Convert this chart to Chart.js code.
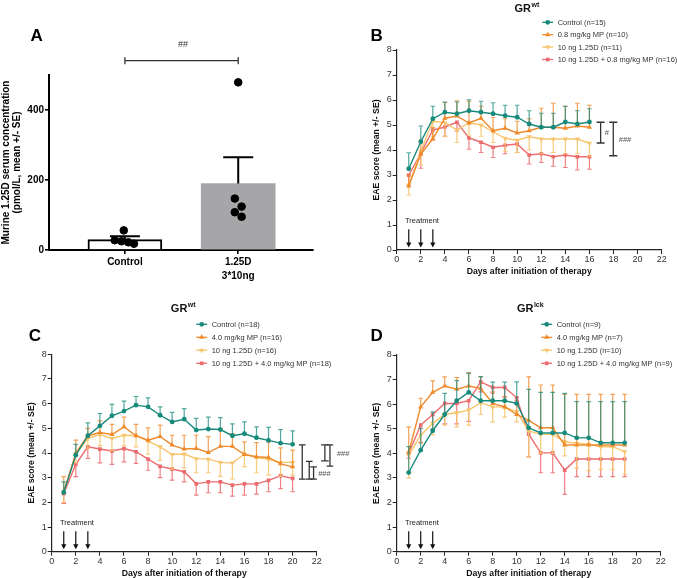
<!DOCTYPE html>
<html>
<head>
<meta charset="utf-8">
<script src="https://cdn.jsdelivr.net/npm/chart.js@4.4.1/dist/chart.umd.min.js"></script>
<style>
  html, body { margin: 0; padding: 0; background: #fff; }
  #fig { position: relative; width: 677px; height: 578px; overflow: hidden; }
  canvas { position: absolute; }
</style>
</head>
<body>
<div id="fig">
  <canvas id="panelA" width="340" height="290" style="left:0;top:0"></canvas>
  <canvas id="panelC" width="360" height="288" style="left:0;top:290px"></canvas>
  <canvas id="panelB" width="337" height="290" style="left:340px;top:0"></canvas>
  <canvas id="panelD" width="337" height="288" style="left:340px;top:290px"></canvas>
</div>
<script>
// ---------- panel A: serum 1.25D ----------
const aGroups = ['Control', ['1.25D', '3*10ng']];
const aMeans = [29.5, 190];
const aSE = [9.5, 75];
const aControlDots = [56, 28, 25, 22, 18];
const aTreatedDots = [479, 147, 124, 108, 95];
const aControlJitter = [-0.01, -0.09, -0.03, 0.03, 0.08];
const aTreatedJitter = [0, -0.03, 0.03, -0.03, 0.03];

// ---------- panels B-D: EAE score ----------
const days16 = [1, 2, 3, 4, 5, 6, 7, 8, 9, 10, 11, 12, 13, 14, 15, 16];
const days19 = [1, 2, 3, 4, 5, 6, 7, 8, 9, 10, 11, 12, 13, 14, 15, 16, 17, 18, 19];
const days20 = [1, 2, 3, 4, 5, 6, 7, 8, 9, 10, 11, 12, 13, 14, 15, 16, 17, 18, 19, 20];
const treatmentDays = [1, 2, 3];
const xTicks = [0, 2, 4, 6, 8, 10, 12, 14, 16, 18, 20, 22];

const bLabels = ['Control (n=15)', '0.8 mg/kg MP (n=10)', '10 ng 1.25D (n=11)', '10 ng 1.25D + 0.8 mg/kg MP (n=16)'];
const bControl = [3.25, 4.33, 5.25, 5.51, 5.45, 5.57, 5.51, 5.45, 5.37, 5.31, 5.04, 4.91, 4.91, 5.12, 5.04, 5.12];
const bControlSE = [0.64, 0.63, 0.50, 0.41, 0.47, 0.44, 0.44, 0.44, 0.42, 0.48, 0.53, 0.56, 0.56, 0.63, 0.53, 0.53];
const bMP = [2.56, 3.83, 4.45, 5.27, 5.36, 5.08, 5.27, 4.77, 4.87, 4.68, 4.77, 4.91, 4.91, 4.87, 4.96, 4.91];
const bMPSE = [0.44, 0.57, 0.45, 0.63, 0.61, 0.87, 0.48, 0.53, 0.38, 0.47, 0.48, 0.76, 0.96, 0.88, 0.91, 0.88];
const bVitD = [2.6, 3.95, 5.15, 5.09, 4.8, 5.09, 5.0, 4.73, 4.47, 4.39, 4.53, 4.44, 4.44, 4.44, 4.44, 4.27];
const bVitDSE = [0.4, 0.55, 0.6, 0.54, 0.5, 0.49, 0.45, 0.43, 0.52, 0.49, 0.53, 0.59, 0.54, 0.59, 0.59, 0.52];
const bCombo = [2.99, 3.87, 4.8, 4.92, 5.11, 4.48, 4.31, 4.11, 4.19, 4.24, 3.8, 3.85, 3.73, 3.8, 3.73, 3.73];
const bComboSE = [0.39, 0.6, 0.4, 0.37, 0.36, 0.45, 0.41, 0.41, 0.34, 0.34, 0.36, 0.35, 0.38, 0.5, 0.53, 0.5];

const cLabels = ['Control (n=18)', '4.0 mg/kg MP (n=16)', '10 ng 1.25D (n=16)', '10 ng 1.25D + 4.0 mg/kg MP (n=18)'];
const cControl = [2.40, 3.91, 4.70, 5.10, 5.51, 5.70, 5.94, 5.87, 5.53, 5.26, 5.37, 4.93, 4.97, 4.95, 4.70, 4.78, 4.62, 4.51, 4.40, 4.35];
const cControlSE = [0.43, 0.44, 0.52, 0.50, 0.46, 0.40, 0.35, 0.36, 0.34, 0.39, 0.43, 0.47, 0.48, 0.48, 0.48, 0.48, 0.44, 0.53, 0.55, 0.55];
const cMP = [2.4, 4.0, 4.70, 4.83, 4.75, 5.06, 4.70, 4.52, 4.67, 4.32, 4.16, 4.18, 4.02, 4.27, 4.27, 3.94, 3.85, 3.82, 3.56, 3.44];
const cMPSE = [0.64, 0.52, 0.3, 0.47, 0.41, 0.39, 0.46, 0.5, 0.46, 0.4, 0.56, 0.54, 0.64, 0.73, 0.52, 0.51, 0.57, 0.63, 0.65, 0.68];
const cVitD = [2.45, 3.95, 4.59, 4.75, 4.59, 4.72, 4.70, 4.48, 4.25, 3.94, 3.96, 3.77, 3.75, 3.62, 3.59, 3.96, 3.81, 3.74, 3.62, 3.62];
const cVitDSE = [0.45, 0.35, 0.39, 0.45, 0.49, 0.42, 0.45, 0.53, 0.55, 0.59, 0.56, 0.57, 0.55, 0.57, 0.64, 0.51, 0.61, 0.64, 0.57, 0.52];
const cCombo = [2.35, 3.54, 4.25, 4.16, 4.08, 4.18, 4.05, 3.75, 3.46, 3.35, 3.24, 2.75, 2.83, 2.83, 2.70, 2.75, 2.75, 2.89, 3.08, 2.97];
const cComboSE = [0.39, 0.5, 0.47, 0.56, 0.54, 0.54, 0.47, 0.45, 0.46, 0.45, 0.41, 0.46, 0.44, 0.44, 0.45, 0.46, 0.42, 0.46, 0.52, 0.54];

const dLabels = ['Control (n=9)', '4.0 mg/kg MP (n=7)', '10 ng 1.25D (n=10)', '10 ng 1.25D + 4.0 mg/kg MP (n=9)'];
const dControl = [3.22, 4.13, 4.92, 5.58, 6.14, 6.48, 6.14, 6.14, 6.14, 6.03, 5.04, 4.83, 4.83, 4.83, 4.63, 4.63, 4.43, 4.43, 4.43];
const dControlSE = [1.05, 0.89, 0.77, 0.86, 0.82, 0.77, 0.98, 0.76, 0.76, 0.88, 1.56, 1.65, 1.65, 1.61, 1.47, 1.47, 1.67, 1.67, 1.67];
const dMP = [4.04, 5.89, 6.48, 6.74, 6.61, 6.74, 6.64, 6.03, 5.89, 5.58, 5.34, 5.04, 5.04, 4.34, 4.34, 4.34, 4.34, 4.34, 4.34];
const dMPSE = [1.04, 0.35, 0.47, 0.37, 0.47, 0.54, 0.47, 0.47, 0.41, 0.42, 1.77, 1.74, 1.74, 2.06, 2.06, 2.06, 2.06, 2.06, 2.06];
const dVitD = [3.93, 4.74, 5.22, 5.58, 5.65, 5.76, 6.06, 5.89, 5.89, 5.69, 4.91, 4.77, 4.77, 4.47, 4.41, 4.37, 4.27, 4.27, 4.07];
const dVitDSE = [0.93, 0.34, 0.47, 0.43, 0.57, 0.61, 0.48, 0.61, 0.42, 0.41, 1.05, 0.77, 0.77, 0.57, 1.01, 1.07, 0.92, 0.92, 0.92];
const dCombo = [4.0, 5.15, 5.58, 6.03, 6.03, 6.14, 6.91, 6.68, 6.68, 6.26, 4.78, 4.02, 4.02, 3.32, 3.77, 3.77, 3.77, 3.77, 3.77];
const dComboSE = [0.2, 0.7, 0.58, 0.83, 0.83, 0.84, 0.41, 0.23, 0.38, 0.11, 0.92, 0.81, 0.81, 0.99, 0.72, 0.72, 0.72, 0.72, 0.72];

// ---------- styles ----------
const FONT = "'Liberation Sans', Arial, Helvetica, sans-serif";
Chart.defaults.font.family = FONT;
Chart.defaults.animation = false;

// control, MP, 1.25D, combo
const SERIES_STYLE = [
  { color: '#178a7c', err: 'rgba(23,138,124,0.75)', point: 'circle', rot: 0, r: 2.4, dir: 1 },
  { color: '#ef8a2b', err: 'rgba(239,138,43,0.8)', point: 'triangle', rot: 0, r: 3, dir: 1 },
  { color: '#f7c56d', err: 'rgba(247,197,109,0.9)', point: 'triangle', rot: 180, r: 3, dir: -1 },
  { color: '#ec6b6f', err: 'rgba(236,107,111,0.85)', point: 'rect', r: 2.6, rot: 0, dir: -1 },
];

function drawMarker(ctx, style, rot, x, y, r) {
  ctx.beginPath();
  if (style === 'circle') {
    ctx.arc(x, y, r, 0, Math.PI * 2);
  } else if (style === 'rect') {
    const s = r * Math.SQRT1_2;
    ctx.rect(x - s, y - s, 2 * s, 2 * s);
  } else {
    const d = rot === 180 ? -1 : 1;
    ctx.moveTo(x, y - d * r);
    ctx.lineTo(x + r * 0.87, y + d * r * 0.5);
    ctx.lineTo(x - r * 0.87, y + d * r * 0.5);
    ctx.closePath();
  }
  ctx.fill();
}

// error bars: one direction only, like the original
function drawErrors(chart, index) {
  const ds = chart.data.datasets[index];
  if (!ds.se) return;
  const meta = chart.getDatasetMeta(index);
  const yScale = chart.scales.y;
  const ctx = chart.ctx;
  ctx.save();
  ctx.strokeStyle = ds.errColor;
  ctx.lineWidth = ds.errWidth;
  meta.data.forEach((pt, i) => {
    const v = ds.data[i].y;
    const yEnd = yScale.getPixelForValue(v + ds.errDir * ds.se[i]);
    ctx.beginPath();
    ctx.moveTo(pt.x, pt.y);
    ctx.lineTo(pt.x, yEnd);
    ctx.moveTo(pt.x - ds.capHalf, yEnd);
    ctx.lineTo(pt.x + ds.capHalf, yEnd);
    ctx.stroke();
  });
  ctx.restore();
}

const errorBars = {
  id: 'errorBars',
  beforeDatasetDraw(chart, args) {
    const ds = chart.data.datasets[args.index];
    if (!ds.errAfter) drawErrors(chart, args.index);
  },
  afterDatasetDraw(chart, args) {
    const ds = chart.data.datasets[args.index];
    if (ds.errAfter) drawErrors(chart, args.index);
  },
};

function text(ctx, str, x, y, font, color, align) {
  ctx.font = font;
  ctx.fillStyle = color;
  ctx.textAlign = align || 'center';
  ctx.textBaseline = 'middle';
  ctx.fillText(str, x, y);
}

function makeDecor(cfg) {
  return {
    id: 'decor',
    afterDraw(chart) {
      const ctx = chart.ctx;
      const xs = chart.scales.x;
      const ys = chart.scales.y;
      ctx.save();
      text(ctx, cfg.letter.text, cfg.letter.x, cfg.letter.y, 'bold 17px ' + FONT, '#000');

      if (cfg.title) {
        const t = cfg.title;
        ctx.font = 'bold 11px ' + FONT;
        const w1 = ctx.measureText(t.main).width;
        ctx.font = 'bold 7px ' + FONT;
        const w2 = ctx.measureText(t.sup).width;
        const x0 = t.x - (w1 + w2) / 2;
        text(ctx, t.main, x0, t.y, 'bold 11px ' + FONT, '#111', 'left');
        text(ctx, t.sup, x0 + w1 + 0.5, t.y - 4, 'bold 7px ' + FONT, '#111', 'left');
      }

      if (cfg.legend) {
        const L = cfg.legend;
        chart.data.datasets.forEach((ds, i) => {
          const y = L.y + i * L.dy;
          ctx.strokeStyle = ds.borderColor;
          ctx.lineWidth = 1.3;
          ctx.beginPath();
          ctx.moveTo(L.x - 5.5, y);
          ctx.lineTo(L.x + 5.5, y);
          ctx.stroke();
          ctx.fillStyle = ds.borderColor;
          drawMarker(ctx, ds.pointStyle, ds.pointRotation, L.x, y, ds.pointRadius);
          text(ctx, ds.label, L.x + 10, y + 0.5, '7.5px ' + FONT, '#333', 'left');
        });
      }

      if (cfg.treatment) {
        const T = cfg.treatment;
        text(ctx, 'Treatment', xs.getPixelForValue(T.textDay), ys.getPixelForValue(T.textY), '7.5px ' + FONT, '#222');
        ctx.strokeStyle = '#111';
        ctx.fillStyle = '#111';
        ctx.lineWidth = 1.2;
        treatmentDays.forEach((d) => {
          const x = xs.getPixelForValue(d);
          const y0 = ys.getPixelForValue(T.from);
          const y1 = ys.getPixelForValue(T.to);
          ctx.beginPath();
          ctx.moveTo(x, y0);
          ctx.lineTo(x, y1 - 3);
          ctx.stroke();
          ctx.beginPath();
          ctx.moveTo(x, y1);
          ctx.lineTo(x - 2.6, y1 - 5);
          ctx.lineTo(x + 2.6, y1 - 5);
          ctx.closePath();
          ctx.fill();
        });
      }

      (cfg.brackets || []).forEach((b) => {
        const x = xs.getPixelForValue(b.x);
        const y1 = ys.getPixelForValue(b.y1);
        const y2 = ys.getPixelForValue(b.y2);
        ctx.strokeStyle = '#333';
        ctx.lineWidth = 1.3;
        ctx.beginPath();
        ctx.moveTo(x, y1);
        ctx.lineTo(x, y2);
        ctx.moveTo(x - b.hw, y1);
        ctx.lineTo(x + b.hw, y1);
        ctx.moveTo(x - b.hw, y2);
        ctx.lineTo(x + b.hw, y2);
        ctx.stroke();
      });
      (cfg.notes || []).forEach((n) => {
        text(ctx, n.text, xs.getPixelForValue(n.x), ys.getPixelForValue(n.y), n.font || ('7.5px ' + FONT), '#555');
      });
      if (cfg.extra) cfg.extra(chart);
      ctx.restore();
    },
  };
}

// ---------- panel A ----------
new Chart(document.getElementById('panelA'), {
  data: {
    datasets: [
      {
        type: 'bar',
        data: aMeans.map((m, i) => ({ x: i, y: m })),
        backgroundColor: ['#ffffff', '#a6a6a9'],
        borderColor: ['#000000', '#a6a6a9'],
        borderWidth: [2, 0],
        barThickness: 74,
        order: 2,
        se: aSE,
        errDir: 1,
        errColor: '#000',
        errWidth: 2,
        capHalf: 15,
        errAfter: true,
      },
      {
        type: 'scatter',
        data: aControlDots.map((v, i) => ({ x: 0 + aControlJitter[i], y: v })),
        backgroundColor: '#000',
        borderColor: '#000',
        pointRadius: 3.8,
        order: 1,
      },
      {
        type: 'scatter',
        data: aTreatedDots.map((v, i) => ({ x: 1 + aTreatedJitter[i], y: v })),
        backgroundColor: '#000',
        borderColor: '#000',
        pointRadius: 3.8,
        order: 1,
      },
    ],
  },
  options: {
    responsive: false,
    layout: { padding: { left: 0, top: 75, right: 27, bottom: 0 } },
    plugins: { legend: { display: false }, tooltip: { enabled: false } },
    scales: {
      x: {
        type: 'linear',
        min: -0.67,
        max: 1.66,
        offset: false,
        afterBuildTicks: (axis) => { axis.ticks = [{ value: 0 }, { value: 1 }]; },
        afterFit: (axis) => { axis.height = 40; },
        ticks: {
          callback: (v) => aGroups[v],
          font: { size: 10, weight: 'bold', lineHeight: 1.33 },
          color: '#000',
          padding: 2,
          maxRotation: 0,
        },
        grid: { offset: false, drawOnChartArea: false, tickLength: 4, lineWidth: 1.6, color: '#000' },
        border: { color: '#000', width: 2 },
      },
      y: {
        min: 0,
        max: 500,
        afterBuildTicks: (axis) => { axis.ticks = [{ value: 0 }, { value: 200 }, { value: 400 }]; },
        afterFit: (axis) => { axis.width = 49; },
        ticks: { font: { size: 10, weight: 'bold' }, color: '#000', padding: 1 },
        grid: { drawOnChartArea: false, tickLength: 4, lineWidth: 1.6, color: '#000' },
        border: { color: '#000', width: 2 },
        title: {
          display: true,
          text: ['Murine 1.25D serum concentration', '(pmol/L, mean +/- SE)'],
          font: { size: 10, weight: 'bold', lineHeight: 1.03 },
          color: '#000',
          padding: { top: 1.5, bottom: 0 },
        },
      },
    },
  },
  plugins: [
    errorBars,
    makeDecor({
      letter: { text: 'A', x: 36.7, y: 36.7 },
      extra: (chart) => {
        const ctx = chart.ctx;
        const xs = chart.scales.x;
        const x0 = xs.getPixelForValue(0);
        const x1 = xs.getPixelForValue(1);
        const y = 60.7;
        ctx.strokeStyle = '#333';
        ctx.lineWidth = 1.3;
        ctx.beginPath();
        ctx.moveTo(x0, y);
        ctx.lineTo(x1, y);
        ctx.moveTo(x0, y - 3.5);
        ctx.lineTo(x0, y + 3.5);
        ctx.moveTo(x1, y - 3.5);
        ctx.lineTo(x1, y + 3.5);
        ctx.stroke();
        text(ctx, '##', (x0 + x1) / 2 + 1.5, 44.5, '9px ' + FONT, '#333');
      },
    }),
  ],
});

// ---------- panels B-D ----------
function eaeChart(id, frame, days, series, labels, decor) {
  const lh = 8.7;
  const padLeft = 10;
  const datasets = series.map((s, k) => {
    const st = SERIES_STYLE[k];
    return {
      type: 'line',
      label: labels[k],
      data: days.map((d, i) => ({ x: d, y: s.mean[i] })),
      borderColor: st.color,
      backgroundColor: st.color,
      borderWidth: 1.4,
      pointStyle: st.point,
      pointRotation: st.rot,
      pointRadius: st.r,
      pointBorderWidth: 0,
      tension: 0,
      se: s.se,
      errDir: st.dir,
      errColor: st.err,
      errWidth: 1.2,
      capHalf: 2.3,
    };
  });
  return new Chart(document.getElementById(id), {
    data: { datasets },
    options: {
      responsive: false,
      layout: { padding: { left: padLeft, top: frame.top, right: frame.w - frame.right, bottom: 0 } },
      plugins: { legend: { display: false }, tooltip: { enabled: false } },
      scales: {
        x: {
          type: 'linear',
          min: 0,
          max: 22,
          afterBuildTicks: (axis) => { axis.ticks = xTicks.map((v) => ({ value: v })); },
          afterFit: (axis) => { axis.height = frame.h - frame.bottom; },
          ticks: { font: { size: 9 }, color: '#333', padding: 0, maxRotation: 0 },
          grid: { drawOnChartArea: false, tickLength: 4, lineWidth: 1, color: '#222' },
          border: { color: '#222', width: 1.2 },
          title: {
            display: true,
            text: 'Days after initiation of therapy',
            font: { size: 8.7, weight: 'bold', lineHeight: 1 },
            color: '#111',
            padding: { top: 0, bottom: frame.h - frame.xTitleY - lh / 2 },
          },
        },
        y: {
          min: 0,
          max: 8,
          ticks: { stepSize: 1, font: { size: 9 }, color: '#333', padding: 1 },
          afterFit: (axis) => { axis.width = frame.left - padLeft; },
          grid: { drawOnChartArea: false, tickLength: 4, lineWidth: 1, color: '#222' },
          border: { color: '#222', width: 1.2 },
          title: {
            display: true,
            text: 'EAE score (mean +/- SE)',
            font: { size: 8.7, weight: 'bold', lineHeight: 1 },
            color: '#111',
            padding: { top: frame.yTitleX - padLeft - lh / 2, bottom: 0 },
          },
        },
      },
    },
    plugins: [errorBars, makeDecor(decor)],
  });
}

const treatment = { textDay: 2.1, textY: 1.17, from: 0.83, to: 0.1 };

eaeChart('panelB',
  { w: 337, h: 290, left: 56.7, right: 321.7, top: 50, bottom: 250, yTitleX: 37, xTitleY: 271.7 },
  days16,
  [{ mean: bControl, se: bControlSE }, { mean: bMP, se: bMPSE }, { mean: bVitD, se: bVitDSE }, { mean: bCombo, se: bComboSE }],
  bLabels,
  {
    letter: { text: 'B', x: 36.7, y: 36.7 },
    title: { main: 'GR', sup: 'wt', x: 186.7, y: 9 },
    legend: { x: 207.7, y: 22.3, dy: 12.4 },
    treatment,
    brackets: [
      { x: 16.93, y1: 5.11, y2: 4.28, hw: 4 },
      { x: 17.98, y1: 5.11, y2: 3.77, hw: 4 },
    ],
    notes: [
      { text: '#', x: 17.45, y: 4.67 },
      { text: '###', x: 18.95, y: 4.4 },
    ],
  });

eaeChart('panelC',
  { w: 360, h: 288, left: 51.7, right: 316.7, top: 64.3, bottom: 261.7, yTitleX: 31.7, xTitleY: 283.3 },
  days20,
  [{ mean: cControl, se: cControlSE }, { mean: cMP, se: cMPSE }, { mean: cVitD, se: cVitDSE }, { mean: cCombo, se: cComboSE }],
  cLabels,
  {
    letter: { text: 'C', x: 35, y: 46.7 },
    title: { main: 'GR', sup: 'wt', x: 183, y: 19 },
    legend: { x: 201.7, y: 34.3, dy: 13 },
    treatment,
    brackets: [
      { x: 20.8, y1: 4.33, y2: 2.94, hw: 3.3 },
      { x: 21.38, y1: 3.66, y2: 2.94, hw: 3.3 },
      { x: 21.74, y1: 3.44, y2: 2.94, hw: 3.3 },
      { x: 22.68, y1: 4.33, y2: 3.68, hw: 3.8 },
      { x: 23.1, y1: 4.33, y2: 3.47, hw: 3.3 },
    ],
    notes: [
      { text: '###', x: 22.64, y: 3.17 },
      { text: '###', x: 24.2, y: 3.98 },
    ],
  });

eaeChart('panelD',
  { w: 337, h: 288, left: 56.7, right: 320.7, top: 65, bottom: 261.7, yTitleX: 36.7, xTitleY: 283.3 },
  days19,
  [{ mean: dControl, se: dControlSE }, { mean: dMP, se: dMPSE }, { mean: dVitD, se: dVitDSE }, { mean: dCombo, se: dComboSE }],
  dLabels,
  {
    letter: { text: 'D', x: 36.7, y: 46.7 },
    title: { main: 'GR', sup: 'lck', x: 190, y: 19 },
    legend: { x: 206.7, y: 34.3, dy: 13 },
    treatment,
  });
</script>
</body>
</html>
